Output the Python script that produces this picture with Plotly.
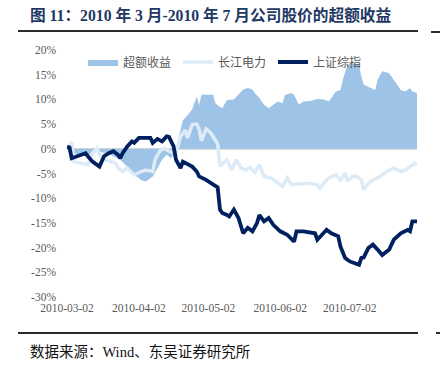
import plotly.graph_objects as go

# ---------------- data (percent) ----------------
tick_dates = ['2010-03-02', '2010-04-02', '2010-05-02', '2010-06-02', '2010-07-02']
tick_labels = ['2010-03-02', '2010-04-02', '2010-05-02', '2010-06-02', '2010-07-02']
y_ticks = [-30, -25, -20, -15, -10, -5, 0, 5, 10, 15, 20]
y_labels = ['-30%', '-25%', '-20%', '-15%', '-10%', '-5%', '0%', '5%', '10%', '15%', '20%']

ex_dates = ['2010-03-02', '2010-03-03', '2010-03-06', '2010-03-10', '2010-03-15', '2010-03-20',
            '2010-03-25', '2010-03-28', '2010-03-30', '2010-04-01', '2010-04-03', '2010-04-05',
            '2010-04-08', '2010-04-10', '2010-04-12', '2010-04-14', '2010-04-16', '2010-04-18',
            '2010-04-20', '2010-04-21', '2010-04-23', '2010-04-25', '2010-04-27', '2010-04-28',
            '2010-04-29', '2010-04-30', '2010-05-02', '2010-05-04', '2010-05-05', '2010-05-06',
            '2010-05-08', '2010-05-10', '2010-05-13', '2010-05-15', '2010-05-17', '2010-05-19',
            '2010-05-21', '2010-05-22', '2010-05-24', '2010-05-26', '2010-05-28', '2010-05-30',
            '2010-06-01', '2010-06-03', '2010-06-04', '2010-06-07', '2010-06-08', '2010-06-10',
            '2010-06-12', '2010-06-15', '2010-06-18', '2010-06-21', '2010-06-23', '2010-06-26',
            '2010-06-28', '2010-06-29', '2010-07-01', '2010-07-03', '2010-07-06', '2010-07-07',
            '2010-07-08', '2010-07-11', '2010-07-13', '2010-07-14', '2010-07-16', '2010-07-19',
            '2010-07-21', '2010-07-24', '2010-07-26', '2010-07-28', '2010-07-29', '2010-07-31']
ex_vals = [0.0, -0.8, -1.0, -1.5, -0.5, -1.0,
           -2.2, -3.6, -4.6, -5.6, -6.3, -6.6,
           -5.6, -3.9, -2.2, -1.2, -1.9, 0.0,
           3.5, 5.8, 6.8, 8.0, 10.6, 8.8,
           10.9, 11.0, 10.9, 11.0, 9.2, 8.8,
           8.2, 9.9, 10.0, 10.9, 12.0, 12.3,
           12.0, 11.3, 10.3, 8.9, 8.2, 8.9,
           9.6, 9.2, 10.9, 11.3, 10.9, 8.9,
           9.6, 9.7, 10.1, 10.0, 9.6, 11.6,
           11.9, 14.0, 17.0, 17.3, 17.0, 14.6,
           13.0, 12.3, 11.9, 14.0, 15.7, 15.3,
           14.0, 11.9, 11.6, 12.3, 11.6, 11.3]

cj_dates = ['2010-03-02', '2010-03-04', '2010-03-05', '2010-03-08', '2010-03-11', '2010-03-13',
            '2010-03-15', '2010-03-16', '2010-03-18', '2010-03-21', '2010-03-23', '2010-03-24',
            '2010-03-26', '2010-03-28', '2010-03-31', '2010-04-03', '2010-04-05', '2010-04-08',
            '2010-04-09', '2010-04-11', '2010-04-13', '2010-04-15', '2010-04-18', '2010-04-20',
            '2010-04-22', '2010-04-23', '2010-04-25', '2010-04-27', '2010-04-28', '2010-04-29',
            '2010-05-01', '2010-05-03', '2010-05-06', '2010-05-07', '2010-05-10', '2010-05-12',
            '2010-05-14', '2010-05-16', '2010-05-18', '2010-05-20', '2010-05-22', '2010-05-24',
            '2010-05-26', '2010-05-29', '2010-05-31', '2010-06-03', '2010-06-05', '2010-06-07',
            '2010-06-10', '2010-06-14', '2010-06-18', '2010-06-19', '2010-06-22', '2010-06-24',
            '2010-06-26', '2010-06-28', '2010-06-30', '2010-07-01', '2010-07-03', '2010-07-05',
            '2010-07-07', '2010-07-08', '2010-07-10', '2010-07-12', '2010-07-15', '2010-07-18',
            '2010-07-21', '2010-07-24', '2010-07-26', '2010-07-29', '2010-07-30', '2010-07-31']
cj_vals = [-0.2, 1.3, -2.6, -2.9, -3.2, -0.9,
           0.1, -1.2, -2.2, -2.6, -2.9, -3.9,
           -4.6, -3.9, -5.3, -4.6, -4.3, -4.6,
           -2.2, -0.5, 0.1, -0.5, -1.0, 2.5,
           3.8, 2.2, 4.9, 5.0, 4.0, 1.6,
           4.0, 3.2, 1.0, -3.5, -2.2, -4.3,
           -2.2, -3.8, -4.3, -3.8, -4.8, -3.2,
           -5.6, -5.9, -6.6, -7.6, -5.9, -7.3,
           -7.1, -7.0, -7.3, -8.0, -6.3, -5.6,
           -5.3, -6.3, -4.9, -6.6, -5.6, -5.6,
           -6.3, -8.3, -7.0, -6.3, -5.6, -4.6,
           -3.9, -4.6, -4.3, -3.2, -2.9, -3.4]

sh_dates = ['2010-03-02', '2010-03-03', '2010-03-04', '2010-03-06', '2010-03-08', '2010-03-10',
            '2010-03-11', '2010-03-13', '2010-03-16', '2010-03-18', '2010-03-20', '2010-03-22',
            '2010-03-24', '2010-03-25', '2010-03-26', '2010-03-28', '2010-03-30', '2010-03-31',
            '2010-04-02', '2010-04-05', '2010-04-07', '2010-04-08', '2010-04-10', '2010-04-12',
            '2010-04-14', '2010-04-15', '2010-04-17', '2010-04-18', '2010-04-20', '2010-04-21',
            '2010-04-23', '2010-04-25', '2010-04-27', '2010-04-28', '2010-05-01', '2010-05-03',
            '2010-05-05', '2010-05-06', '2010-05-07', '2010-05-08', '2010-05-10', '2010-05-11',
            '2010-05-13', '2010-05-15', '2010-05-17', '2010-05-19', '2010-05-21', '2010-05-23',
            '2010-05-24', '2010-05-26', '2010-05-28', '2010-05-30', '2010-06-02', '2010-06-05',
            '2010-06-08', '2010-06-09', '2010-06-12', '2010-06-17', '2010-06-18', '2010-06-20',
            '2010-06-22', '2010-06-24', '2010-06-27', '2010-06-28', '2010-06-30', '2010-07-02',
            '2010-07-04', '2010-07-06', '2010-07-07', '2010-07-08', '2010-07-10', '2010-07-12',
            '2010-07-14', '2010-07-16', '2010-07-19', '2010-07-21', '2010-07-24', '2010-07-27',
            '2010-07-28', '2010-07-29', '2010-07-31']
sh_vals = [0.0, 0.5, -1.9, -1.5, -1.2, -0.9,
           -1.5, -2.6, -3.6, -1.5, -0.9, -0.5,
           -1.2, -1.9, -0.9, 0.5, 1.5, 1.2,
           2.2, 2.3, 2.2, 1.2, 2.0, 1.5,
           2.5, 2.4, 0.5, -2.2, -3.9, -2.6,
           -3.2, -3.6, -4.6, -5.6, -6.3, -6.9,
           -7.6, -7.8, -12.3, -13.0, -13.4, -13.7,
           -12.3, -14.0, -17.1, -16.0, -16.7, -15.0,
           -13.4, -14.7, -14.0, -15.4, -16.7, -17.4,
           -18.8, -16.7, -16.7, -17.1, -18.4, -17.4,
           -16.4, -17.1, -17.7, -19.8, -22.1, -22.8,
           -23.1, -23.5, -22.1, -22.0, -20.1, -19.4,
           -20.4, -21.5, -20.4, -18.4, -17.1, -16.4,
           -16.7, -14.7, -14.7]

x_range = ['2010-03-02', '2010-07-31']
y_range = [-30, 20]

# ---------------- layout helpers (pixel -> paper) ----------------
W, H = 440, 371
ML, MR, MT, MB = 67, 23, 50, 74
PW, PH = W - ML - MR, H - MT - MB


def px(x):
    return (x - ML) / PW


def py(y):
    return (H - MB - y) / PH


serif = 'Liberation Serif, Times New Roman, serif'
cjk = 'Liberation Serif, Noto Sans CJK SC, sans-serif'

fig = go.Figure()
fig.add_trace(go.Scatter(x=ex_dates, y=ex_vals, name='超额收益', mode='lines',
                         line=dict(width=0, color='#9DC3E6'), fill='tozeroy',
                         fillcolor='#9DC3E6', hoverinfo='skip'))
fig.add_trace(go.Scatter(x=cj_dates, y=cj_vals, name='长江电力', mode='lines',
                         line=dict(width=3.5, color='#DDEBF7'), hoverinfo='skip'))
fig.add_trace(go.Scatter(x=sh_dates, y=sh_vals, name='上证综指', mode='lines',
                         line=dict(width=3.8, color='#002060'), hoverinfo='skip'))

zero_pos = (0 - y_range[0]) / (y_range[1] - y_range[0])

fig.update_layout(
    width=W, height=H,
    margin=dict(l=ML, r=MR, t=MT, b=MB, autoexpand=False),
    paper_bgcolor='white', plot_bgcolor='white',
    showlegend=True, hovermode=False,
    legend=dict(orientation='h', x=px(83), xanchor='left', y=py(62), yanchor='middle',
                font=dict(family='Noto Sans CJK SC', size=12, color='#595959'),
                bgcolor='rgba(0,0,0,0)', entrywidth=50, entrywidthmode='pixels',
                itemclick=False),
    title=dict(text='图 11：2010 年 3 月-2010 年 7 月公司股价的超额收益',
               x=30 / W, xanchor='left', xref='container',
               y=1 - 16 / H, yanchor='middle', yref='container', pad=dict(l=0, r=0, t=0, b=0),
               font=dict(family=cjk, size=15.7, color='#1F3864', weight=700)),
    xaxis=dict(type='date', range=x_range, tickvals=tick_dates, ticktext=tick_labels,
               showgrid=False, showline=False, zeroline=False, ticks='',
               tickfont=dict(family=serif, size=11.5, color='#595959'),
               ticklabelstandoff=2),
    xaxis2=dict(type='date', range=x_range, overlaying='x', anchor='free', position=zero_pos,
                side='bottom', showline=True, linecolor='#D9D9D9', linewidth=1.5,
                ticks='outside', ticklen=4, tickcolor='#D9D9D9', tickwidth=1,
                tickvals=tick_dates, showticklabels=False, showgrid=False, zeroline=False),
    yaxis=dict(range=y_range, tickvals=y_ticks, ticktext=y_labels, showgrid=False,
               zeroline=True, zerolinecolor='#D9D9D9', zerolinewidth=1.5,
               showline=False, ticks='',
               tickfont=dict(family=serif, size=11.5, color='#595959'),
               ticklabelstandoff=10),
)

# rules above and below the chart
rule = dict(color='#2b2b2b', width=2)
fig.add_shape(type='line', xref='paper', yref='paper', x0=px(18), x1=px(418),
              y0=py(31), y1=py(31), line=rule)
fig.add_shape(type='line', xref='paper', yref='paper', x0=px(431), x1=px(441),
              y0=py(32), y1=py(32), line=rule)
fig.add_shape(type='line', xref='paper', yref='paper', x0=px(18), x1=px(418),
              y0=py(333), y1=py(333), line=rule)
fig.add_shape(type='line', xref='paper', yref='paper', x0=px(436), x1=px(441),
              y0=py(333), y1=py(333), line=rule)

fig.add_annotation(text='数据来源：Wind、东吴证券研究所', xref='paper', yref='paper',
                   x=px(28), y=py(352), xanchor='left', yanchor='middle', showarrow=False,
                   font=dict(family=cjk, size=14.5, color='#111111'))

fig.write_html('out.html', config={'displayModeBar': False, 'staticPlot': False},
               post_script="document.body.style.margin='0';document.body.style.padding='0';")
